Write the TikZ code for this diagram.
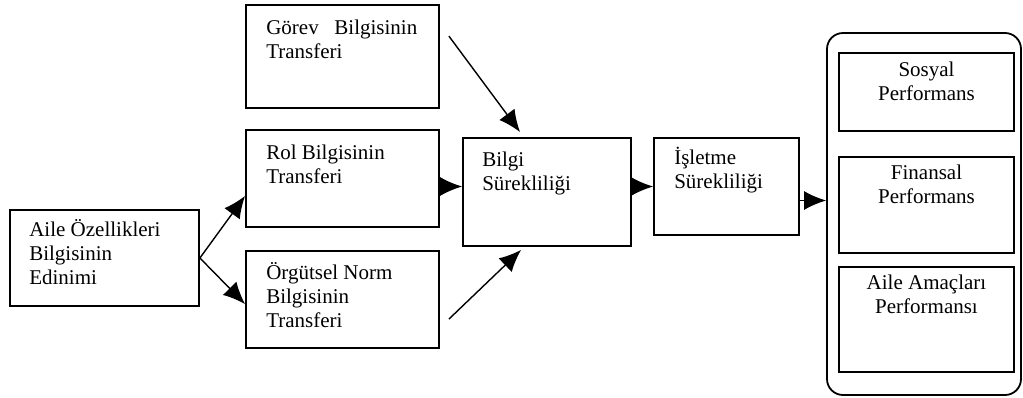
\documentclass[tikz,border=0pt]{standalone}
\usepackage{fontspec}
\setmainfont{Liberation Serif}
\usetikzlibrary{calc,arrows.meta}
\tikzset{>={Latex[length=22pt,width=19pt]}, % big filled tips
  box/.style={draw, line width=1.8pt, inner sep=0pt},
  txt/.style={inner sep=0pt, anchor=base west, align=left},
  ctxt/.style={inner sep=0pt, anchor=base, align=center},
  link/.style={->, line width=1.4pt},
  flow diagram/.style={
    x=1pt,
    y=-1pt,
    font={\fontsize{21}{24}\selectfont},
  },
}

\begin{document}
\begin{tikzpicture}[flow diagram]

    \useasboundingbox (0,0) rectangle (1023,397);

    \node [box, minimum width=189pt, minimum height=96pt] at (104.5,258) (edinim) {};
    \node [txt] at ($(edinim.north west) + (20,75)$) (edinim text)
    {Aile Özellikleri\\Bilgisinin\\Edinimi};

    \node [box, minimum width=193pt, minimum height=103pt] at (342.5,56.5) (gorev) {};
    \node [txt, text width=151pt] at ($(gorev.north west) + (21,30)$) (gorev text)
    {Görev\hfill Bilgisinin\\Transferi};

    \node [box, minimum width=193pt, minimum height=97pt] at (342.5,178.5) (rol) {};
    \node [txt] at ($(rol.north west) + (21,54)$) (rol text)
    {Rol Bilgisinin\\Transferi};

    \node [box, minimum width=193pt, minimum height=97pt] at (342.5,299.5) (norm) {};
    \node [txt] at ($(norm.north west) + (21,77)$) (norm text)
    {Örgütsel Norm\\Bilgisinin\\Transferi};

    \node [box, minimum width=168pt, minimum height=108pt] at (547,192) (bilgi) {};
    \node [txt] at ($(bilgi.north west) + (20,53)$) (bilgi text)
    {Bilgi\\Sürekliliği};

    \node [box, minimum width=145pt, minimum height=97pt] at (726.5,186.5) (isletme) {};
    \node [txt] at ($(isletme.north west) + (21,51)$) (isletme text)
    {İşletme\\Sürekliliği};

    % performance column
    \node [box, rounded corners=16pt, minimum width=194pt, minimum height=362pt]
    at (924,214) (perf) {};

    \node [box, minimum width=175pt, minimum height=78pt] at (926.5,92) (sosyal) {};
    \node [ctxt] at ($(sosyal.north) + (0,48)$) (sosyal text)
    {Sosyal\\Performans};

    \node [box, minimum width=175pt, minimum height=96pt] at (926.5,205) (finans) {};
    \node [ctxt] at ($(finans.north) + (0,47)$) (finans text)
    {Finansal\\Performans};

    \node [box, minimum width=175pt, minimum height=105pt] at (926.5,319.5) (amac) {};
    \node [ctxt] at ($(amac.north) + (0,47)$) (amac text)
    {Aile Amaçları\\Performansı};

    \draw [link] (edinim.east) -- ($(rol.south west) + (0,-32)$);
    \draw [link] (edinim.east) -- ($(norm.north west) + (0,54)$);

    \draw [link] ($(gorev.north east) + (9,32)$) coordinate (gorev out)
    -- ($(bilgi.north west) + (58,-5)$);
    \draw [link] ($(rol.east) + (0,8)$) coordinate (rol out)
    -- (rol out -| bilgi.west);
    \draw [link] ($(norm.north east) + (9,69)$) coordinate (norm out)
    -- ($(bilgi.south west) + (59,3)$);

    \draw [link] (isletme.west -| bilgi.east) -- (isletme.west);
    \draw [link] ($(isletme.east) + (0,14)$) coordinate (isletme out)
    -- (isletme out -| perf.west);

\end{tikzpicture}
\end{document}
